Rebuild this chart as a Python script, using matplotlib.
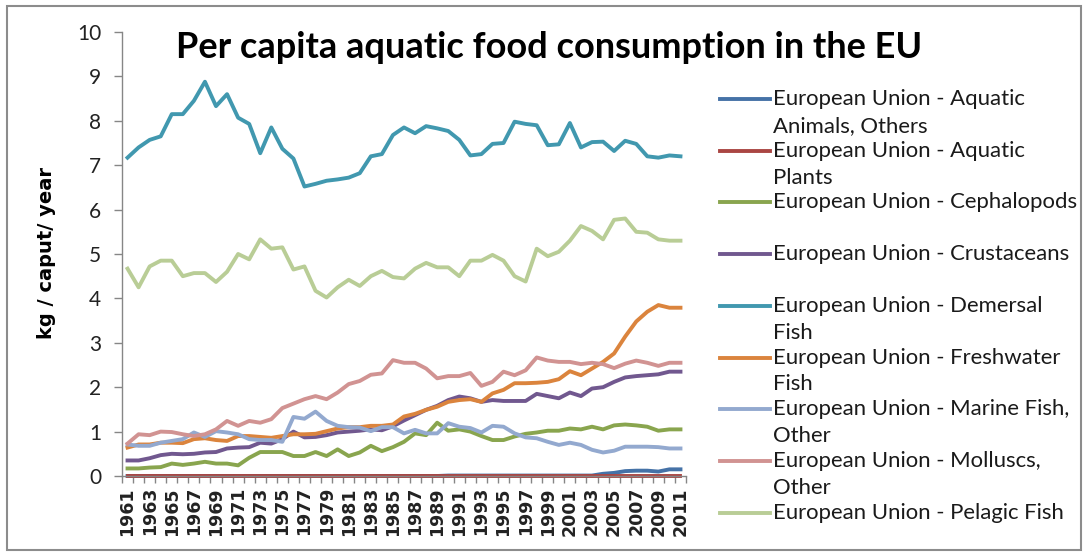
import matplotlib
matplotlib.use('Agg')
import matplotlib.pyplot as plt
from matplotlib.lines import Line2D
from matplotlib.patches import Rectangle

years = list(range(1961, 2012))

aquatic_animals = [0.0] * 29 + [0.01] * 14 + [0.05, 0.07, 0.11, 0.12, 0.12, 0.10, 0.15, 0.15]
aquatic_plants = [0.0] * 51
cephalopods = [0.17, 0.17, 0.19, 0.20, 0.28, 0.25, 0.28, 0.32, 0.28, 0.28,
               0.24, 0.41, 0.54, 0.54, 0.54, 0.45, 0.45, 0.54, 0.45, 0.60,
               0.45, 0.53, 0.68, 0.56, 0.65, 0.77, 0.96, 0.92, 1.20, 1.02,
               1.05, 1.00, 0.90, 0.81, 0.81, 0.89, 0.95, 0.98, 1.02, 1.02,
               1.07, 1.05, 1.11, 1.05, 1.14, 1.16, 1.14, 1.11, 1.02, 1.05, 1.05]
crustaceans = [0.35, 0.35, 0.40, 0.47, 0.50, 0.49, 0.50, 0.53, 0.54, 0.62,
               0.64, 0.65, 0.75, 0.73, 0.83, 1.00, 0.87, 0.88, 0.92, 0.98,
               1.00, 1.02, 1.05, 1.03, 1.12, 1.25, 1.37, 1.49, 1.58, 1.71,
               1.79, 1.75, 1.67, 1.71, 1.69, 1.69, 1.69, 1.85, 1.80, 1.75,
               1.88, 1.80, 1.97, 2.00, 2.12, 2.22, 2.25, 2.27, 2.29, 2.35, 2.35]
demersal = [7.17, 7.40, 7.57, 7.65, 8.15, 8.15, 8.45, 8.88, 8.33, 8.60,
            8.07, 7.93, 7.27, 7.85, 7.37, 7.15, 6.52, 6.58, 6.65, 6.68,
            6.72, 6.82, 7.20, 7.25, 7.68, 7.85, 7.72, 7.88, 7.83, 7.77,
            7.57, 7.22, 7.25, 7.48, 7.50, 7.98, 7.93, 7.90, 7.45, 7.47,
            7.95, 7.40, 7.52, 7.53, 7.32, 7.55, 7.48, 7.20, 7.17, 7.22, 7.20]
freshwater = [0.64, 0.71, 0.71, 0.75, 0.75, 0.74, 0.83, 0.85, 0.81, 0.79,
              0.90, 0.90, 0.88, 0.86, 0.90, 0.94, 0.94, 0.95, 1.01, 1.07,
              1.10, 1.10, 1.13, 1.13, 1.16, 1.34, 1.40, 1.49, 1.56, 1.67,
              1.71, 1.73, 1.67, 1.86, 1.94, 2.09, 2.09, 2.10, 2.12, 2.18,
              2.36, 2.27, 2.42, 2.57, 2.76, 3.14, 3.48, 3.70, 3.85, 3.79, 3.79]
marine_other = [0.71, 0.68, 0.68, 0.75, 0.79, 0.83, 0.98, 0.88, 1.01, 0.98,
                0.94, 0.83, 0.81, 0.81, 0.77, 1.33, 1.29, 1.45, 1.24, 1.13,
                1.10, 1.09, 1.01, 1.10, 1.10, 0.96, 1.04, 0.96, 0.96, 1.19,
                1.11, 1.08, 0.98, 1.13, 1.11, 0.96, 0.87, 0.85, 0.77, 0.70,
                0.75, 0.70, 0.59, 0.53, 0.57, 0.66, 0.66, 0.66, 0.65, 0.62, 0.62]
molluscs = [0.73, 0.94, 0.92, 1.00, 0.99, 0.94, 0.90, 0.94, 1.05, 1.24,
            1.13, 1.24, 1.20, 1.28, 1.53, 1.63, 1.73, 1.80, 1.73, 1.88,
            2.07, 2.14, 2.28, 2.31, 2.61, 2.55, 2.55, 2.42, 2.20, 2.25,
            2.25, 2.32, 2.03, 2.12, 2.35, 2.27, 2.38, 2.67, 2.60, 2.57,
            2.57, 2.52, 2.55, 2.52, 2.43, 2.53, 2.60, 2.55, 2.48, 2.55, 2.55]
pelagic = [4.67, 4.25, 4.72, 4.85, 4.85, 4.50, 4.57, 4.57, 4.37, 4.60,
           5.00, 4.88, 5.33, 5.12, 5.15, 4.65, 4.72, 4.17, 4.02, 4.25,
           4.42, 4.28, 4.50, 4.62, 4.48, 4.45, 4.67, 4.80, 4.70, 4.70,
           4.50, 4.85, 4.85, 4.98, 4.85, 4.50, 4.38, 5.12, 4.95, 5.05,
           5.30, 5.63, 5.52, 5.33, 5.77, 5.80, 5.50, 5.48, 5.33, 5.30, 5.30]

series = [
    ("European Union - Aquatic\nAnimals, Others", aquatic_animals, '#4572A7'),
    ("European Union - Aquatic\nPlants", aquatic_plants, '#AA4643'),
    ("European Union - Cephalopods", cephalopods, '#89A54E'),
    ("European Union - Crustaceans", crustaceans, '#71588F'),
    ("European Union - Demersal\nFish", demersal, '#4198AF'),
    ("European Union - Freshwater\nFish", freshwater, '#DB843D'),
    ("European Union - Marine Fish,\nOther", marine_other, '#93A9CF'),
    ("European Union - Molluscs,\nOther", molluscs, '#D19392'),
    ("European Union - Pelagic Fish", pelagic, '#B9CD96'),
]

W, H = 1084, 552
fig = plt.figure(figsize=(W / 100, H / 100), dpi=100)
ax = fig.add_axes([122 / W, 1 - 476 / H, 564 / W, 444 / H])

idx = list(range(len(years)))
for label, vals, color in series:
    ax.plot(idx, vals, color=color, lw=2.8, solid_joinstyle='round', clip_on=False)

ax.set_xlim(-0.5, len(years) - 0.5)
ax.set_ylim(0, 10)
ax.set_yticks(range(0, 11))
ax.set_xticks(idx[::2])
ax.set_xticklabels([str(y) for y in years[::2]], rotation=90, fontsize=12.5,
                   fontweight='bold', family='DejaVu Sans', color='#222222')
ax.set_xticks([i - 0.5 for i in range(len(years) + 1)], minor=True)
ax.tick_params(axis='x', which='major', length=0, pad=8)
ax.tick_params(axis='x', which='minor', length=5, color='#868686', width=1)
ax.tick_params(axis='y', length=6, color='#868686', width=1, labelsize=15, pad=9)
for t in ax.get_yticklabels():
    t.set_family('Lato')
    t.set_color('#222222')
for s in ['top', 'right']:
    ax.spines[s].set_visible(False)
for s in ['left', 'bottom']:
    ax.spines[s].set_color('#868686')
    ax.spines[s].set_linewidth(1)

ax.set_ylabel('kg / caput/ year', fontsize=14, fontweight='bold', family='DejaVu Sans')
ax.yaxis.set_label_coords(-0.117, 0.502)

fig.text(549 / W, 1 - 48 / H, 'Per capita aquatic food consumption in the EU',
         ha='center', va='center', fontsize=26, fontweight='bold', family='Lato')

# legend drawn by hand so handles align with the first line of each label
for i, (label, vals, color) in enumerate(series):
    y = 99 + i * 51.7
    fig.add_artist(Line2D([720 / W, 770 / W], [1 - y / H, 1 - y / H], color=color, lw=2.8,
                          transform=fig.transFigure))
    for j, line in enumerate(label.split('\n')):
        fig.text(773 / W, 1 - (y + j * 27) / H, line, ha='left', va='center',
                 fontsize=15.9, family='Lato', color='#1a1a1a')

fig.add_artist(Rectangle((7 / W, 2 / H), (W - 10) / W, (H - 8) / H, fill=False,
                         edgecolor='#8c8c8c', lw=1.5, transform=fig.transFigure))

fig.savefig('out.png', dpi=100)
